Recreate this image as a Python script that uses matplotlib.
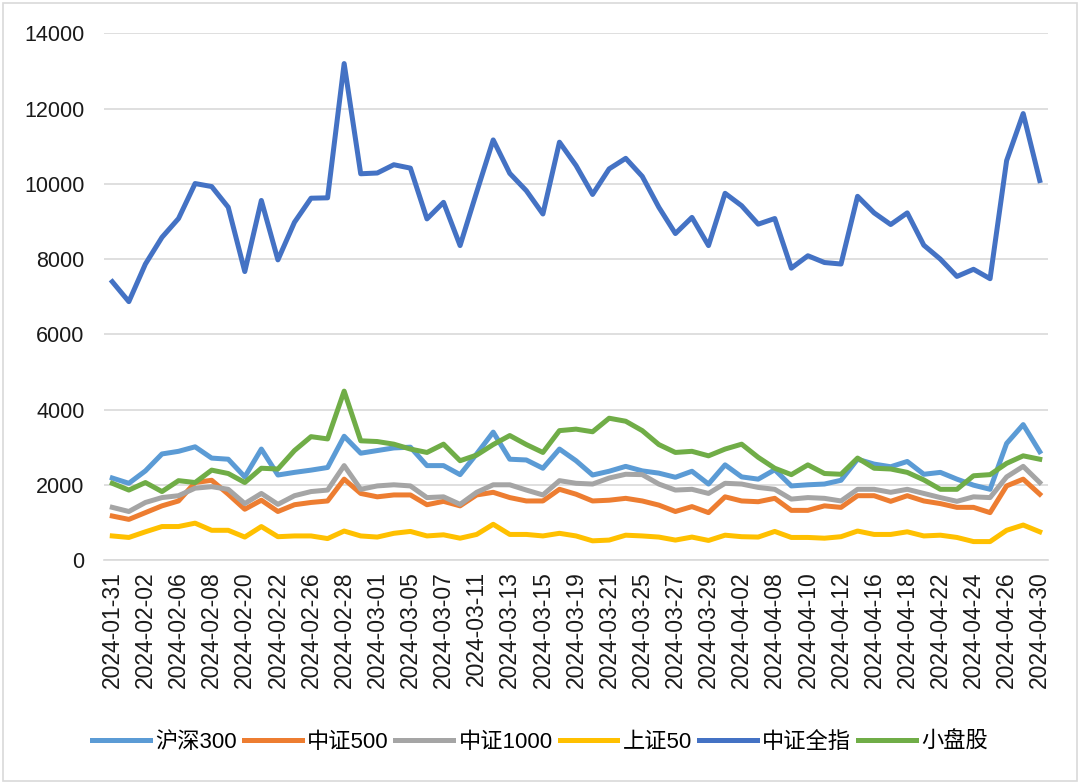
import matplotlib
matplotlib.use("Agg")
import matplotlib.pyplot as plt
from matplotlib.patches import Rectangle

plt.rcParams['font.family'] = ['Liberation Sans', 'Noto Sans CJK SC', 'DejaVu Sans']

dates = [
    "2024-01-31", "2024-02-01", "2024-02-02", "2024-02-05", "2024-02-06", "2024-02-07",
    "2024-02-08", "2024-02-19", "2024-02-20", "2024-02-21", "2024-02-22", "2024-02-23",
    "2024-02-26", "2024-02-27", "2024-02-28", "2024-02-29", "2024-03-01", "2024-03-04",
    "2024-03-05", "2024-03-06", "2024-03-07", "2024-03-08", "2024-03-11", "2024-03-12",
    "2024-03-13", "2024-03-14", "2024-03-15", "2024-03-18", "2024-03-19", "2024-03-20",
    "2024-03-21", "2024-03-22", "2024-03-25", "2024-03-26", "2024-03-27", "2024-03-28",
    "2024-03-29", "2024-04-01", "2024-04-02", "2024-04-03", "2024-04-08", "2024-04-09",
    "2024-04-10", "2024-04-11", "2024-04-12", "2024-04-15", "2024-04-16", "2024-04-17",
    "2024-04-18", "2024-04-19", "2024-04-22", "2024-04-23", "2024-04-24", "2024-04-25",
    "2024-04-26", "2024-04-29", "2024-04-30",
]

hs300 = [2180, 2040, 2370, 2820, 2890, 3010, 2710, 2680, 2210, 2950, 2260, 2330,
         2390, 2460, 3290, 2840, 2910, 2980, 3000, 2510, 2510, 2270, 2820, 3400,
         2680, 2660, 2440, 2950, 2640, 2260, 2360, 2490, 2370, 2310, 2200, 2360,
         2020, 2530, 2210, 2150, 2400, 1970, 2000, 2020, 2120, 2680, 2550, 2480,
         2620, 2280, 2330, 2150, 1990, 1880, 3100, 3600, 2880]
zz500 = [1170, 1080, 1260, 1440, 1570, 2060, 2120, 1750, 1350, 1590, 1290, 1470,
         1530, 1570, 2150, 1770, 1680, 1730, 1730, 1470, 1560, 1440, 1730, 1800,
         1660, 1570, 1570, 1880, 1750, 1570, 1590, 1640, 1570, 1460, 1290, 1420,
         1260, 1680, 1570, 1550, 1640, 1320, 1320, 1440, 1400, 1710, 1710, 1560,
         1710, 1570, 1500, 1400, 1400, 1260, 1970, 2150, 1750]
zz1000 = [1400, 1290, 1530, 1660, 1710, 1910, 1950, 1880, 1500, 1770, 1480, 1710,
          1820, 1860, 2510, 1880, 1970, 2000, 1970, 1660, 1680, 1480, 1800, 2000,
          2000, 1860, 1730, 2110, 2040, 2020, 2180, 2280, 2270, 2020, 1860, 1880,
          1770, 2040, 2020, 1930, 1880, 1620, 1660, 1640, 1570, 1880, 1880, 1800,
          1880, 1770, 1660, 1560, 1680, 1660, 2210, 2490, 2060]
sz50 = [640, 600, 750, 890, 890, 980, 790, 790, 610, 890, 620, 640,
        640, 570, 770, 640, 610, 710, 760, 640, 670, 580, 680, 950,
        680, 680, 640, 710, 640, 510, 530, 660, 640, 610, 530, 610,
        520, 660, 620, 610, 760, 600, 600, 580, 620, 770, 680, 680,
        750, 640, 660, 600, 490, 490, 790, 930, 750]
zzqz = [7400, 6870, 7870, 8580, 9080, 10010, 9930, 9380, 7670, 9560, 7980, 8980,
        9620, 9630, 13200, 10270, 10290, 10510, 10420, 9070, 9510, 8360, 9780, 11170,
        10280, 9820, 9200, 11110, 10490, 9720, 10400, 10680, 10200, 9380, 8680, 9110,
        8360, 9750, 9420, 8930, 9080, 7760, 8090, 7910, 7870, 9670, 9230, 8920,
        9230, 8370, 8000, 7540, 7730, 7480, 10620, 11870, 10090]
xpg = [2040, 1860, 2060, 1820, 2110, 2060, 2390, 2300, 2060, 2440, 2420, 2910,
       3280, 3220, 4490, 3170, 3150, 3080, 2950, 2860, 3080, 2640, 2790, 3070,
       3310, 3070, 2860, 3440, 3480, 3410, 3770, 3690, 3440, 3070, 2860, 2890,
       2770, 2950, 3080, 2730, 2440, 2270, 2530, 2300, 2280, 2710, 2440, 2420,
       2330, 2130, 1880, 1880, 2240, 2270, 2570, 2770, 2680]

series = [
    ("沪深300", hs300, "#5B9BD5"),
    ("中证500", zz500, "#ED7D31"),
    ("中证1000", zz1000, "#A5A5A5"),
    ("上证50", sz50, "#FFC000"),
    ("中证全指", zzqz, "#4472C4"),
    ("小盘股", xpg, "#70AD47"),
]

fig = plt.figure(figsize=(10.8, 7.84), dpi=100)
ax = fig.add_axes([0.0963, 0.2857, 0.8741, 0.6716])

x = list(range(len(dates)))
for name, vals, color in series:
    ax.plot(x, vals, color=color, lw=3.6, label=name, solid_joinstyle='round')

ax.set_xlim(-0.5, len(dates) - 0.5)
ax.set_ylim(0, 14000)
ax.set_yticks(range(0, 14001, 2000))
ax.set_xticks(x[::2])
ax.set_xticklabels(dates[::2], rotation=90, fontsize=16.5, color='#1a1a1a')
ax.tick_params(axis='y', labelsize=15.5, colors='#1a1a1a', length=0, pad=14)
ax.tick_params(axis='x', length=0, pad=8)
ax.grid(axis='y', color='#D9D9D9', lw=1.2)
ax.set_axisbelow(True)
for s in ['top', 'right', 'left']:
    ax.spines[s].set_visible(False)
ax.spines['bottom'].set_color('#D9D9D9')
ax.spines['bottom'].set_linewidth(1.2)

fig.legend(loc='center', bbox_to_anchor=(0.5, 0.053), ncol=6, frameon=False,
           fontsize=16, handlelength=2.6, handletextpad=0.25, columnspacing=0.3)

fig.patches.append(Rectangle((0.003, 0.004), 0.994, 0.992, transform=fig.transFigure,
                             fill=False, edgecolor='#D9D9D9', lw=1.2))

fig.savefig("out.png", dpi=100)
